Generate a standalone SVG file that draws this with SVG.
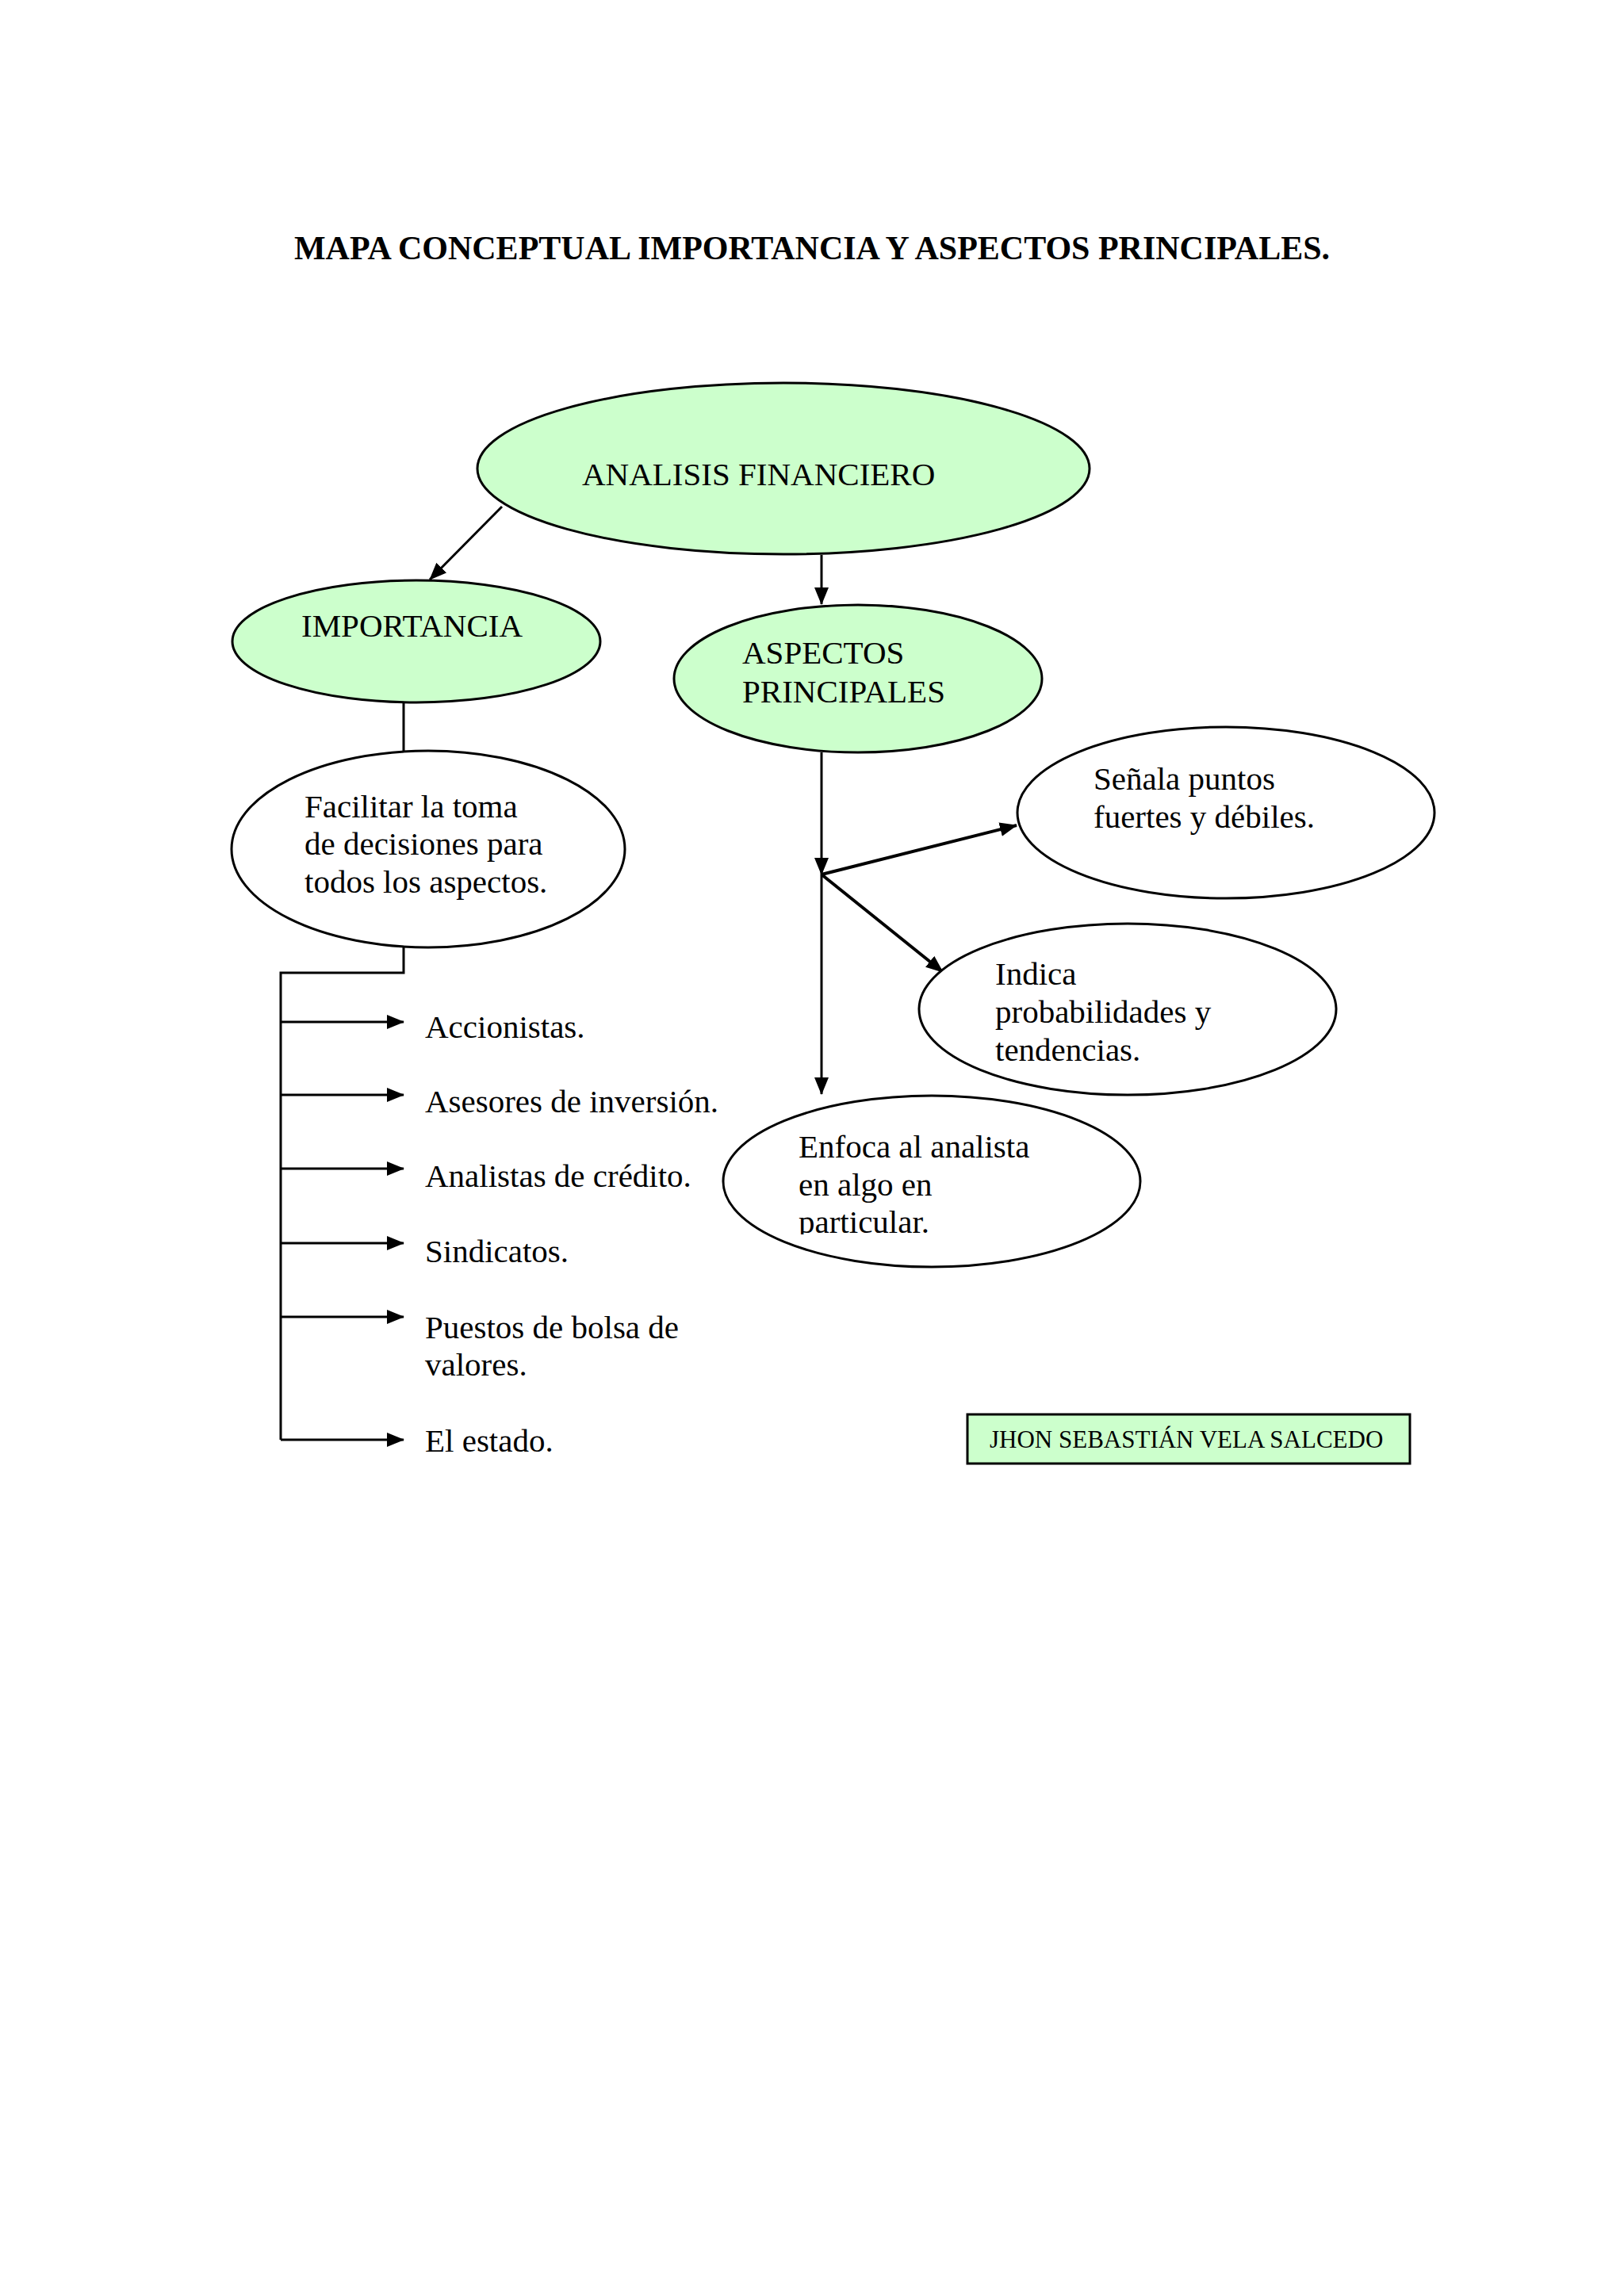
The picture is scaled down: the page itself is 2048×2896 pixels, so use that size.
<svg xmlns="http://www.w3.org/2000/svg" width="2048" height="2896" viewBox="0 0 2048 2896">
<style>
text{font-family:"Liberation Serif","Times New Roman",serif;fill:#000}
.t{font-size:41px}
.title{font-size:42px;font-weight:bold}
.g{fill:#ccffcc;stroke:#000;stroke-width:3}
.w{fill:#fff;stroke:#000;stroke-width:3}
.ln{stroke:#000;stroke-width:3;fill:none}
.lnb{stroke:#000;stroke-width:4;fill:none}
</style>
<defs>
<marker id="ah" markerUnits="userSpaceOnUse" markerWidth="22" markerHeight="18" viewBox="0 0 22 18" refX="21" refY="9" orient="auto"><path d="M0,0 L22,9 L0,18 z" fill="#000"/></marker>
<clipPath id="clipEnf"><rect x="900" y="1380" width="560" height="177"/></clipPath>
</defs>
<rect width="2048" height="2896" fill="#fff"/>
<text class="title" x="1024" y="327" text-anchor="middle">MAPA CONCEPTUAL IMPORTANCIA Y ASPECTOS PRINCIPALES.</text>
<g id="connectors">
<line class="ln" x1="633" y1="639" x2="542" y2="731" marker-end="url(#ah)"/>
<line class="ln" x1="1036" y1="700" x2="1036" y2="762" marker-end="url(#ah)"/>
<line class="ln" x1="509" y1="886" x2="509" y2="947"/>
<polyline class="ln" points="509,1195 509,1227 354,1227 354,1816"/>
<line class="ln" x1="354" y1="1289" x2="509" y2="1289" marker-end="url(#ah)"/>
<line class="ln" x1="354" y1="1381" x2="509" y2="1381" marker-end="url(#ah)"/>
<line class="ln" x1="354" y1="1474" x2="509" y2="1474" marker-end="url(#ah)"/>
<line class="ln" x1="354" y1="1568" x2="509" y2="1568" marker-end="url(#ah)"/>
<line class="ln" x1="354" y1="1661" x2="509" y2="1661" marker-end="url(#ah)"/>
<line class="ln" x1="354" y1="1816" x2="509" y2="1816" marker-end="url(#ah)"/>
<line class="ln" x1="1036" y1="949" x2="1036" y2="1103" marker-end="url(#ah)"/>
<line class="lnb" x1="1036" y1="1103" x2="1282" y2="1041" marker-end="url(#ah)"/>
<line class="lnb" x1="1036" y1="1103" x2="1189" y2="1226" marker-end="url(#ah)"/>
<line class="ln" x1="1036" y1="1103" x2="1036" y2="1380" marker-end="url(#ah)"/>
</g>
<g id="analisis">
<ellipse class="g" cx="988" cy="591" rx="386" ry="108"/>
<text class="t" x="734" y="612">ANALISIS FINANCIERO</text>
</g>
<g id="importancia">
<ellipse class="g" cx="525" cy="809" rx="232" ry="77"/>
<text class="t" x="380" y="803">IMPORTANCIA</text>
</g>
<g id="aspectos">
<ellipse class="g" cx="1082" cy="856" rx="232" ry="93"/>
<text class="t" x="936" y="837">ASPECTOS</text>
<text class="t" x="936" y="886">PRINCIPALES</text>
</g>
<g id="facilitar">
<ellipse class="w" cx="540" cy="1071" rx="248" ry="124"/>
<text class="t" x="384" y="1031">Facilitar la toma</text>
<text class="t" x="384" y="1078">de decisiones para</text>
<text class="t" x="384" y="1126">todos los aspectos.</text>
</g>
<g id="accionistas"><text class="t" x="536" y="1309">Accionistas.</text></g>
<g id="asesores"><text class="t" x="536" y="1403">Asesores de inversión.</text></g>
<g id="analistas"><text class="t" x="536" y="1497">Analistas de crédito.</text></g>
<g id="sindicatos"><text class="t" x="536" y="1592">Sindicatos.</text></g>
<g id="puestos"><text class="t" x="536" y="1688">Puestos de bolsa de</text><text class="t" x="536" y="1735">valores.</text></g>
<g id="estado"><text class="t" x="536" y="1831">El estado.</text></g>
<g id="senala">
<ellipse class="w" cx="1546" cy="1025" rx="263" ry="108"/>
<text class="t" x="1379" y="996">Señala puntos</text>
<text class="t" x="1379" y="1044">fuertes y débiles.</text>
</g>
<g id="indica">
<ellipse class="w" cx="1422" cy="1273" rx="263" ry="108"/>
<text class="t" x="1255" y="1242">Indica</text>
<text class="t" x="1255" y="1290">probabilidades y</text>
<text class="t" x="1255" y="1338">tendencias.</text>
</g>
<g id="enfoca">
<ellipse class="w" cx="1175" cy="1490" rx="263" ry="108"/>
<g clip-path="url(#clipEnf)">
<text class="t" x="1007" y="1460">Enfoca al analista</text>
<text class="t" x="1007" y="1508">en algo en</text>
<text class="t" x="1007" y="1555">particular.</text>
</g>
</g>
<g id="autor">
<rect x="1220" y="1784" width="558" height="62" fill="#ccffcc" stroke="#000" stroke-width="3"/>
<text x="1248" y="1826" style="font-size:31px">JHON SEBASTIÁN VELA SALCEDO</text>
</g>
</svg>
